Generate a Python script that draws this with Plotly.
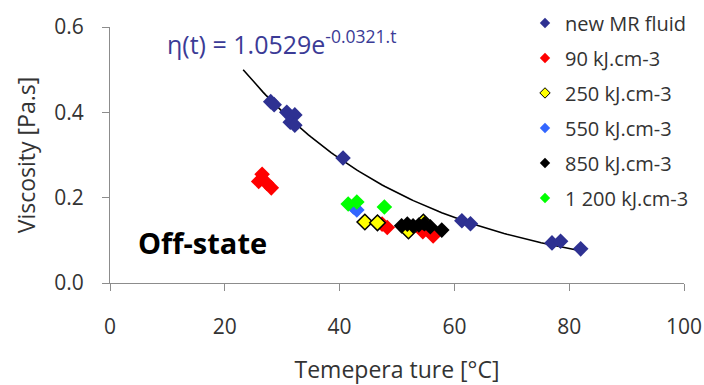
import numpy as np
import plotly.graph_objects as go

# Measured off-state viscosity vs temperature
mr_t = [28.0, 28.6, 30.8, 32.2, 31.4, 32.2, 40.6, 61.3, 62.8, 77.0, 78.5, 82.0]
mr_v = [0.425, 0.418, 0.400, 0.394, 0.377, 0.370, 0.293, 0.146, 0.139, 0.094, 0.098, 0.080]

e90_t = [26.5, 25.9, 27.3, 28.1, 47.4, 48.3, 54.5, 56.3]
e90_v = [0.255, 0.238, 0.234, 0.223, 0.138, 0.130, 0.120, 0.110]

e250_t = [44.4, 46.6, 52.0, 54.6]
e250_v = [0.143, 0.141, 0.122, 0.143]

e550_t = [43.0, 42.4]
e550_v = [0.171, 0.178]

e850_t = [50.8, 51.8, 52.8, 53.8, 54.8, 55.8, 57.8]
e850_v = [0.134, 0.138, 0.134, 0.136, 0.139, 0.132, 0.124]

e1200_t = [41.5, 43.0, 47.8]
e1200_v = [0.185, 0.190, 0.178]

# Exponential fit coefficients
fit_a = 1.0529
fit_b = -0.0321
fit_t_range = [23.2, 82.0]

series = [
    ("new MR fluid", mr_t, mr_v, "#2E3192", None),
    ("90 kJ.cm-3", e90_t, e90_v, "#FF0000", None),
    ("250 kJ.cm-3", e250_t, e250_v, "#FFFF00", "#000000"),
    ("550 kJ.cm-3", e550_t, e550_v, "#3366FF", None),
    ("850 kJ.cm-3", e850_t, e850_v, "#000000", None),
    ("1 200 kJ.cm-3", e1200_t, e1200_v, "#00FF00", None),
]

fig = go.Figure()

# Fit curve
t_fit = np.linspace(fit_t_range[0], fit_t_range[1], 120)
fig.add_trace(go.Scatter(
    x=t_fit, y=fit_a * np.exp(fit_b * t_fit), mode="lines",
    line=dict(color="black", width=1.6), showlegend=False, hoverinfo="skip",
))

for name, xs, ys, color, edge in series:
    line = dict(color=edge, width=1.5) if edge else dict(width=0)
    fig.add_trace(go.Scatter(
        x=xs, y=ys, mode="markers", name=name, legendgroup=name,
        showlegend=False,
        marker=dict(symbol="diamond", size=12, color=color, line=line),
    ))
    # compact legend marker
    fig.add_trace(go.Scatter(
        x=[None], y=[None], mode="markers", name=name, legendgroup=name,
        marker=dict(symbol="diamond", size=8, color=color,
                    line=dict(color=edge, width=1) if edge else dict(width=0)),
    ))

font_family = "Open Sans"
text_col = "#333333"

fig.add_annotation(
    x=0.095, y=0.94, xref="paper", yref="paper", xanchor="left", yanchor="middle",
    text="η(t) = 1.0529e<sup>-0.0321.t</sup>", showarrow=False,
    font=dict(family=font_family, size=25, color="#3B3B96"),
)
fig.add_annotation(
    x=0.045, y=0.16, xref="paper", yref="paper", xanchor="left", yanchor="middle",
    text="<b>Off-state</b>", showarrow=False,
    font=dict(family=font_family, size=29, color="black"),
)

fig.update_layout(
    width=704, height=385,
    margin=dict(l=110, r=20, t=27, b=102, autoexpand=False),
    paper_bgcolor="white", plot_bgcolor="white",
    font=dict(family=font_family, size=20, color=text_col),
    legend=dict(
        x=0.723, y=1.092, xanchor="left", yanchor="top",
        bgcolor="rgba(0,0,0,0)", tracegroupgap=6, maxheight=400,
        font=dict(family=font_family, size=20, color=text_col),
        itemwidth=30,
    ),
)
fig.update_xaxes(
    range=[0, 100], tickvals=[0, 20, 40, 60, 80, 100], automargin=False,
    showgrid=False, zeroline=False, showline=True, linecolor="#8C8C8C", linewidth=1.2,
    ticks="outside", ticklen=7, tickcolor="#8C8C8C", ticklabelstandoff=18,
    tickfont=dict(size=21, color=text_col),
    title=dict(text="Temepera ture [°C]", font=dict(size=23, color=text_col), standoff=28),
)
fig.update_yaxes(
    range=[0, 0.6], tickvals=[0, 0.2, 0.4, 0.6], tickformat=".1f", automargin=False,
    showgrid=False, zeroline=False, showline=True, linecolor="#8C8C8C", linewidth=1.2,
    ticks="outside", ticklen=7, tickcolor="#8C8C8C", ticklabelstandoff=14,
    tickfont=dict(size=21, color=text_col),
    title=dict(text="Viscosity [Pa.s]", font=dict(size=23, color=text_col), standoff=12),
)

fig.write_html("out.html")
